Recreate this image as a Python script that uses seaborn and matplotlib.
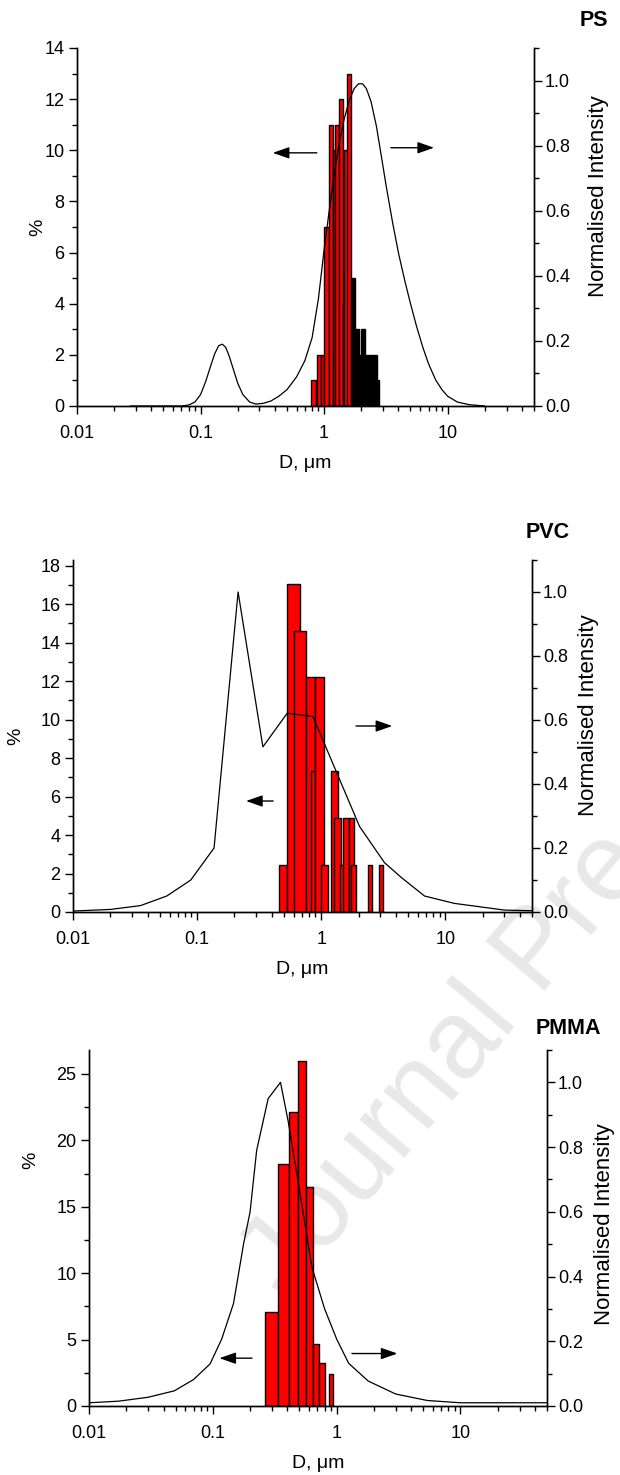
import numpy as np
import matplotlib
matplotlib.use("Agg")
import matplotlib.pyplot as plt
import seaborn as sns
from matplotlib.ticker import (MultipleLocator, FixedLocator, FixedFormatter, LogLocator,
                               NullFormatter, FormatStrFormatter)

# ---------------- data ----------------
# PS : histogram bins (µm) and % values
ps_bin_lo = [0.79, 0.868, 0.94, 1.007, 1.086, 1.17, 1.228, 1.323, 1.418, 1.445, 1.519, 1.646, 1.774, 1.887, 1.985, 2.138, 2.392, 2.592, 2.69]
ps_bin_hi = [0.856, 0.94, 1.007, 1.086, 1.17, 1.228, 1.323, 1.418, 1.519, 1.549, 1.646, 1.774, 1.922, 2.048, 2.138, 2.392, 2.592, 2.69, 2.793]
ps_pct = [1, 2, 2, 7, 11, 10, 11, 12, 4, 10, 13, 5, 3, 2, 3, 2, 2, 2, 1]
# PS : normalised intensity curve
ps_curve_d = [0.027, 0.05, 0.07, 0.08, 0.09, 0.1, 0.11, 0.12, 0.13, 0.14, 0.15, 0.16, 0.17, 0.18, 0.2, 0.22,
              0.25, 0.28, 0.32, 0.37, 0.43, 0.5, 0.6, 0.7, 0.8, 0.9, 1.0, 1.1, 1.2, 1.3, 1.45, 1.6, 1.75, 1.9,
              2.05, 2.2, 2.4, 2.65, 2.9, 3.2, 3.6, 4.0, 4.5, 5.0, 5.6, 6.3, 7.0, 8.0, 9.0, 10, 12, 15, 20]
ps_curve_i = [0.0, 0.0, 0.0, 0.003, 0.012, 0.035, 0.075, 0.12, 0.16, 0.185, 0.19, 0.18, 0.155, 0.125, 0.07, 0.035,
              0.012, 0.006, 0.008, 0.015, 0.03, 0.05, 0.09, 0.14, 0.21, 0.33, 0.48, 0.6, 0.7, 0.79, 0.88, 0.94, 0.975, 0.99,
              0.99, 0.975, 0.935, 0.86, 0.77, 0.67, 0.56, 0.47, 0.385, 0.315, 0.245, 0.18, 0.13, 0.08, 0.05, 0.03,
              0.012, 0.004, 0.0]

# PVC
pvc_bin_lo = [0.456, 0.532, 0.609, 0.757, 0.831, 0.900, 0.988, 1.204, 1.28, 1.431, 1.504, 1.661, 1.746, 2.405, 2.951]
pvc_bin_hi = [0.532, 0.681, 0.757, 0.900, 0.900, 1.063, 1.132, 1.379, 1.449, 1.524, 1.661, 1.835, 1.916, 2.578, 3.146]
pvc_pct = [2.44, 17.07, 14.63, 12.2, 7.32, 12.2, 2.44, 7.32, 4.88, 2.44, 4.88, 4.88, 2.44, 2.44, 2.44]
pvc_curve_d = [0.01, 0.02, 0.035, 0.057, 0.089, 0.137, 0.214, 0.339, 0.532, 0.857, 2.04, 3.24, 4.42, 6.8, 11.8, 30, 50]
pvc_curve_i = [0.003, 0.008, 0.02, 0.05, 0.1, 0.2, 1.0, 0.516, 0.621, 0.611, 0.267, 0.154, 0.108, 0.05, 0.027, 0.006, 0.004]

# PMMA
pmma_bin_lo = [0.265, 0.337, 0.411, 0.489, 0.561, 0.640, 0.718, 0.863]
pmma_bin_hi = [0.337, 0.411, 0.489, 0.561, 0.640, 0.718, 0.800, 0.930]
pmma_pct = [7.1, 18.2, 22.1, 26.0, 16.5, 4.7, 3.2, 2.4]
pmma_curve_d = [0.01, 0.0174, 0.03, 0.049, 0.07, 0.095, 0.118, 0.147, 0.177, 0.2, 0.226, 0.28, 0.352, 0.406,
                0.505, 0.63, 0.8, 1.0, 1.25, 1.8, 3.0, 5.4, 10, 50]
pmma_curve_i = [0.01, 0.015, 0.027, 0.047, 0.082, 0.13, 0.207, 0.317, 0.5, 0.6, 0.79, 0.95, 1.0, 0.88,
                0.66, 0.43, 0.30, 0.207, 0.132, 0.077, 0.037, 0.017, 0.01, 0.01]

x_tick_values = [0.01, 0.1, 1, 10]
x_tick_labels = ["0.01", "0.1", "1", "10"]

# ---------------- style ----------------
sns.set_theme(style="ticks")
plt.rcParams['font.family'] = ['Liberation Sans', 'DejaVu Sans']
plt.rcParams['axes.linewidth'] = 1.0
plt.rcParams['axes.edgecolor'] = 'black'
plt.rcParams['text.color'] = 'black'
plt.rcParams['axes.labelcolor'] = 'black'
plt.rcParams['xtick.color'] = 'black'
plt.rcParams['ytick.color'] = 'black'

W, H = 620, 1475
fig = plt.figure(figsize=(W / 100, H / 100), dpi=100)
fig.patch.set_facecolor('white')

# watermark
fig.text(285 / W, 1 - 1300 / H, "Journal Pre-proof", rotation=50, fontsize=80, color='#e8e8e8',
         ha='left', va='baseline', zorder=-5, rotation_mode='anchor')

FS = 13      # tick labels
FL = 14      # '%' and 'D, μm'
FR = 16      # 'Normalised Intensity'


def panel(box, lo, hi, pct, cd, ci, ytop, ymaj, ymin, title, title_xy, arrows_left, arrows_right,
          black_from=None, lab_pct=(-0.09, 0.5), lab_int=(1.14, 0.55)):
    l, r, t, b = box
    ax = fig.add_axes([l / W, 1 - b / H, (r - l) / W, (b - t) / H])
    ax.set_facecolor('none')
    ax.set_xscale('log')
    widths = np.subtract(hi, lo)
    colors = ['black' if (black_from is not None and x >= black_from) else '#ff0000' for x in lo]
    ax.bar(lo, pct, width=widths, align='edge', color=colors, edgecolor='black', linewidth=1.0, zorder=2)

    ax2 = ax.twinx()
    sns.lineplot(x=cd, y=ci, ax=ax2, color='black', linewidth=0.9, sort=False, estimator=None, zorder=3)

    ax.set_xlim(0.01, 50)
    ax.set_ylim(0, ytop)
    ax.yaxis.set_major_locator(MultipleLocator(ymaj))
    ax.yaxis.set_minor_locator(MultipleLocator(ymin))
    ax.xaxis.set_major_locator(FixedLocator(x_tick_values))
    ax.xaxis.set_major_formatter(FixedFormatter(x_tick_labels))
    ax.xaxis.set_minor_locator(LogLocator(base=10, subs=np.arange(2, 10), numticks=20))
    ax.xaxis.set_minor_formatter(NullFormatter())
    ax.spines['top'].set_visible(False)
    ax.tick_params(axis='both', which='major', direction='out', length=6, width=1.0, labelsize=FS)
    ax.tick_params(axis='both', which='minor', direction='out', length=3.5, width=1.0)
    ax.tick_params(axis='x', which='major', pad=8)
    ax.tick_params(axis='y', which='major', pad=3)
    ax.tick_params(axis='y', which='both', right=False)
    ax.set_xlabel("D, μm", fontsize=FL, labelpad=9)
    ax.set_ylabel("%", fontsize=FL)
    ax.yaxis.set_label_coords(*lab_pct)

    ax2.set_ylim(0, 1.1)
    ax2.yaxis.set_major_locator(MultipleLocator(0.2))
    ax2.yaxis.set_minor_locator(MultipleLocator(0.1))
    ax2.yaxis.set_major_formatter(FormatStrFormatter('%.1f'))
    ax2.spines['top'].set_visible(False)
    ax2.tick_params(axis='y', which='major', direction='out', length=6, width=1.0, labelsize=FS, pad=2)
    ax2.tick_params(axis='y', which='minor', direction='out', length=3.5, width=1.0)
    ax2.set_ylabel("Normalised Intensity", fontsize=FR)
    ax2.yaxis.set_label_coords(*lab_int)
    ax2.set_xlabel("")

    arrow_kw = dict(arrowstyle='-|>,head_length=1.0,head_width=0.35', color='black', lw=1.0,
                    mutation_scale=10, shrinkA=0, shrinkB=0)
    for (x0, x1, y) in (arrows_left, arrows_right):
        ax.annotate("", xy=(x1, y), xytext=(x0, y), arrowprops=arrow_kw, zorder=4)

    fig.text(title_xy[0] / W, 1 - title_xy[1] / H, title, fontsize=15.5, fontweight='bold',
             ha='center', va='center')
    return ax, ax2


panel((77, 534, 48, 406), ps_bin_lo, ps_bin_hi, ps_pct, ps_curve_d, ps_curve_i,
      14, 2, 1, "PS", (594, 20), (0.873, 0.384, 9.9), (3.47, 7.76, 10.1), black_from=1.64,
      lab_pct=(-0.068, 0.5), lab_int=(1.118, 0.587))

panel((73, 532, 560, 912), pvc_bin_lo, pvc_bin_hi, pvc_pct, pvc_curve_d, pvc_curve_i,
      18.3, 2, 1, "PVC", (548, 532), (0.41, 0.248, 5.77), (1.91, 3.74, 9.67),
      lab_pct=(-0.107, 0.5), lab_int=(1.10, 0.56))

panel((89, 547, 1050, 1406), pmma_bin_lo, pmma_bin_hi, pmma_pct, pmma_curve_d, pmma_curve_i,
      26.8, 5, 2.5, "PMMA", (568, 1029), (0.207, 0.113, 3.6), (1.33, 3.1, 3.95),
      lab_pct=(-0.109, 0.69), lab_int=(1.103, 0.51))

fig.savefig("out.png", dpi=100, facecolor='white')
